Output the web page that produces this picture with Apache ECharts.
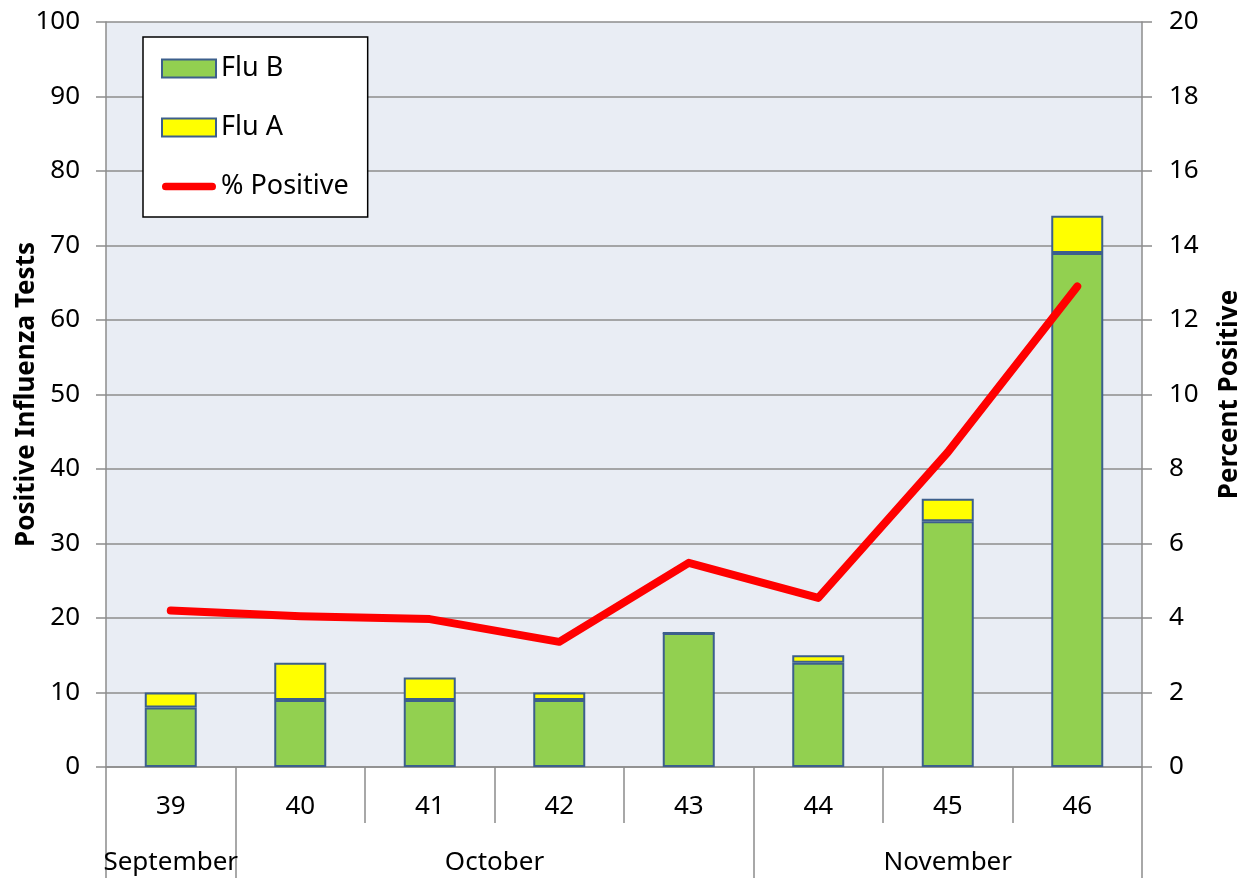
<!DOCTYPE html>
<html>
<head>
<meta charset="utf-8">
<script src="https://cdn.jsdelivr.net/npm/echarts@6/dist/echarts.min.js"></script>
<style>
  html, body { margin: 0; padding: 0; background: #fff; }
  #main { width: 1247px; height: 878px; }
</style>
</head>
<body>
<div id="main"></div>
<script>
// week numbers and the months they fall in
const weeks = ['39', '40', '41', '42', '43', '44', '45', '46'];
const months = ['September', 'October', 'November'];
const monthCenters = [0.5, 3, 6.5];
const monthBounds = [0, 1, 5, 8];

const fluB = [8, 9, 9, 9, 18, 14, 33, 69];
const fluA = [2, 5, 3, 1, 0, 1, 3, 5];
const pctPositive = [4.2, 4.05, 3.97, 3.36, 5.48, 4.54, 8.45, 12.9];

const font = 'Noto Sans';
const gridCol = '#8c8c8c';
const edge = '#3c5f8c';

const chart = echarts.init(document.getElementById('main'));

chart.setOption({
  backgroundColor: '#fff',
  textStyle: { fontFamily: font },
  grid: {
    left: 106, right: 105, top: 22, bottom: 111,
    outerBoundsMode: 'none',
    containLabel: false,
    show: true, backgroundColor: '#e9edf4', borderWidth: 0
  },
  legend: {
    orient: 'vertical',
    left: 143, top: 37,
    padding: [18, 19, 17, 18],
    itemGap: 32,
    itemWidth: 54, itemHeight: 18,
    backgroundColor: '#fff',
    borderColor: '#000', borderWidth: 1.5,
    textStyle: { fontFamily: font, fontSize: 27, color: '#000' },
    data: [
      { name: 'Flu B', icon: 'rect' },
      { name: 'Flu A', icon: 'rect' },
      { name: '% Positive', icon: 'path://M4,0 L52,0 A4,4 0 0 1 52,8 L4,8 A4,4 0 0 1 4,0 Z' }
    ]
  },
  xAxis: [
    {
      type: 'category',
      data: weeks,
      position: 'bottom',
      axisLine: { lineStyle: { color: gridCol, width: 1.5 } },
      axisTick: { show: true, interval: 0, length: 56, lineStyle: { color: gridCol, width: 1.5 } },
      axisLabel: { interval: 0, margin: 27, fontSize: 26, color: '#000', fontFamily: font }
    },
    {
      type: 'value',
      min: 0, max: 8,
      position: 'bottom',
      axisLine: { show: false },
      splitLine: { show: false },
      axisTick: { show: true, customValues: monthBounds, length: 111, lineStyle: { color: gridCol, width: 1.5 } },
      axisLabel: {
        customValues: monthCenters,
        margin: 83, fontSize: 26, color: '#000', fontFamily: font,
        formatter: function (v) { return months[monthCenters.indexOf(v)]; }
      }
    }
  ],
  yAxis: [
    {
      type: 'value',
      min: 0, max: 100, interval: 10,
      name: 'Positive Influenza Tests',
      nameLocation: 'middle', nameRotate: 90, nameGap: 66,
      nameMoveOverlap: false,
      nameTextStyle: { fontSize: 26, fontWeight: 'bold', color: '#000', fontFamily: font },
      axisLine: { show: true, lineStyle: { color: gridCol, width: 1.5 } },
      axisTick: { show: true, length: 10, lineStyle: { color: gridCol, width: 1.5 } },
      axisLabel: { margin: 26, fontSize: 26, color: '#000', fontFamily: font },
      splitLine: { lineStyle: { color: gridCol, width: 1.5 } }
    },
    {
      type: 'value',
      min: 0, max: 20, interval: 2,
      position: 'right',
      name: 'Percent Positive',
      nameLocation: 'middle', nameRotate: 90, nameGap: 75,
      nameTextStyle: { fontSize: 26, fontWeight: 'bold', color: '#000', fontFamily: font },
      axisLine: { show: true, lineStyle: { color: gridCol, width: 1.5 } },
      axisTick: { show: true, length: 10, lineStyle: { color: gridCol, width: 1.5 } },
      axisLabel: { margin: 27, fontSize: 26, color: '#000', fontFamily: font },
      splitLine: { show: false }
    }
  ],
  series: [
    {
      name: 'Flu B', type: 'bar', stack: 'flu', barWidth: 52,
      data: fluB,
      itemStyle: { color: '#92d050', borderColor: edge, borderWidth: 2 }
    },
    {
      name: 'Flu A', type: 'bar', stack: 'flu', barWidth: 52,
      data: fluA,
      itemStyle: { color: '#ffff00', borderColor: edge, borderWidth: 2 }
    },
    {
      name: '% Positive', type: 'line', yAxisIndex: 1,
      data: pctPositive,
      symbol: 'none', z: 5,
      lineStyle: { color: '#ff0000', width: 8, cap: 'round', join: 'round' },
      itemStyle: { color: '#ff0000' }
    }
  ]
});
</script>
</body>
</html>
